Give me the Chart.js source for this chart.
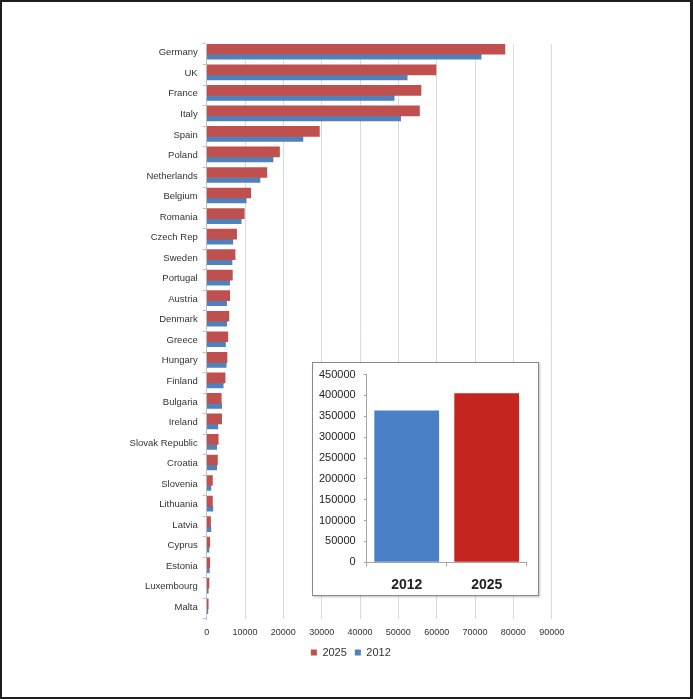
<!DOCTYPE html>
<html>
<head>
<meta charset="utf-8">
<script src="https://cdn.jsdelivr.net/npm/chart.js@4"></script>
<style>
  html, body { margin: 0; padding: 0; background: #fff; }
  #page { position: relative; width: 693px; height: 699px; overflow: hidden; }
  #mainBox { position: absolute; left: 0; top: 0; width: 693px; height: 699px; }
  #insetBox { position: absolute; left: 312px; top: 362px; width: 225px; height: 232px;
              border: 1px solid #8a8a8a; background: #fff; box-shadow: 1px 1px 2px rgba(0,0,0,0.25); }
  #insetInner { position: absolute; left: 0; top: -3px; width: 225px; height: 235px; }
  #frame { position: absolute; left: 0; top: 0; width: 693px; height: 699px; box-sizing: border-box;
           border: 2px solid #1e1e1e; border-right-width: 3px; pointer-events: none; }
</style>
</head>
<body>
<div id="page">
  <div id="mainBox"><canvas id="mainChart"></canvas></div>
  <div id="insetBox"><div id="insetInner"><canvas id="insetChart"></canvas></div></div>
  <div id="frame"></div>
</div>
<script>
// countries, top to bottom
const COUNTRIES = ['Germany', 'UK', 'France', 'Italy', 'Spain', 'Poland', 'Netherlands', 'Belgium',
  'Romania', 'Czech Rep', 'Sweden', 'Portugal', 'Austria', 'Denmark', 'Greece', 'Hungary', 'Finland',
  'Bulgaria', 'Ireland', 'Slovak Republic', 'Croatia', 'Slovenia', 'Lithuania', 'Latvia', 'Cyprus',
  'Estonia', 'Luxembourg', 'Malta'];

// values
const VALUES_2025 = [77800, 59800, 55900, 55500, 29400, 19000, 15700, 11500,
  9800, 7800, 7400, 6700, 6000, 5800, 5500, 5300, 4800,
  3800, 3900, 3000, 2800, 1500, 1500, 1000, 800,
  800, 600, 400];
const VALUES_2012 = [71600, 52300, 48900, 50600, 25100, 17300, 13900, 10300,
  9000, 6800, 6600, 6000, 5200, 5200, 4900, 5100, 4300,
  3900, 2900, 2600, 2600, 1100, 1600, 1100, 600,
  700, 400, 300];

const X_MAX = 90000;
const X_STEP = 10000;

// inset: totals per year
const INSET_YEARS = ['2012', '2025'];
const INSET_TOTALS = [364000, 405000];
const INSET_MAX = 450000;
const INSET_STEP = 50000;

Chart.defaults.font.family = '"Liberation Sans", Arial, sans-serif';
Chart.defaults.color = '#333';
Chart.defaults.animation = false;

// Chart.js centres the legend on the full width; nudge it under the plot like the original
const legendShift = {
  id: 'legendShift',
  afterLayout(chart, args, opts) {
    if (!chart.legend) return;
    chart.legend.left += opts.dx;
    chart.legend.right += opts.dx;
  }
};

new Chart(document.getElementById('mainChart'), {
  type: 'bar',
  data: {
    labels: COUNTRIES,
    datasets: [
      { label: '2025', data: VALUES_2025, backgroundColor: '#C0504D', barThickness: 10 },
      { label: '2012', data: VALUES_2012, backgroundColor: '#4F81BD', barThickness: 5 }
    ]
  },
  plugins: [legendShift],
  options: {
    indexAxis: 'y',
    responsive: true,
    maintainAspectRatio: false,
    layout: { padding: { left: 0, right: 141.3, top: 44, bottom: 31 } },
    plugins: {
      tooltip: { enabled: false },
      legendShift: { dx: 75 },
      legend: {
        position: 'bottom',
        labels: { boxWidth: 6, boxHeight: 6, padding: 8, color: '#333', font: { size: 11 } }
      }
    },
    scales: {
      x: {
        min: 0, max: X_MAX,
        ticks: { stepSize: X_STEP, padding: 8.5, font: { size: 9 }, color: '#333', callback: v => String(v) },
        grid: { color: '#D9D9D9', drawTicks: false },
        border: { display: false },
        afterFit: s => { s.height = 20; }
      },
      y: {
        ticks: { font: { size: 9.5 }, color: '#333', padding: 5, labelOffset: -1.5, autoSkip: false },
        grid: { drawOnChartArea: false, tickLength: 4, color: '#BFBFBF' },
        border: { color: '#BFBFBF' },
        afterFit: s => { s.width = 206.7; }
      }
    }
  }
});

new Chart(document.getElementById('insetChart'), {
  type: 'bar',
  data: {
    labels: INSET_YEARS,
    datasets: [
      { label: 'total', data: INSET_TOTALS, backgroundColor: ['#4A80C6', '#C4251F'],
        barPercentage: 0.81, categoryPercentage: 1 }
    ]
  },
  options: {
    responsive: true,
    maintainAspectRatio: false,
    layout: { padding: { left: 0, right: 11.3, top: 8, bottom: 0 } },
    plugins: { legend: { display: false }, tooltip: { enabled: false } },
    scales: {
      x: {
        ticks: { font: { size: 14, weight: 'bold' }, color: '#222', padding: 10 },
        grid: { drawOnChartArea: false, tickLength: 4, color: '#A6A6A6' },
        border: { color: '#A6A6A6' },
        afterFit: s => { s.height = 32.7; }
      },
      y: {
        min: 0, max: INSET_MAX,
        ticks: { stepSize: INSET_STEP, font: { size: 11 }, color: '#222', padding: 8, callback: v => String(v) },
        grid: { drawOnChartArea: false, tickLength: 3, color: '#A6A6A6' },
        border: { color: '#A6A6A6' },
        afterFit: s => { s.width = 53.7; }
      }
    }
  }
});
</script>
</body>
</html>
